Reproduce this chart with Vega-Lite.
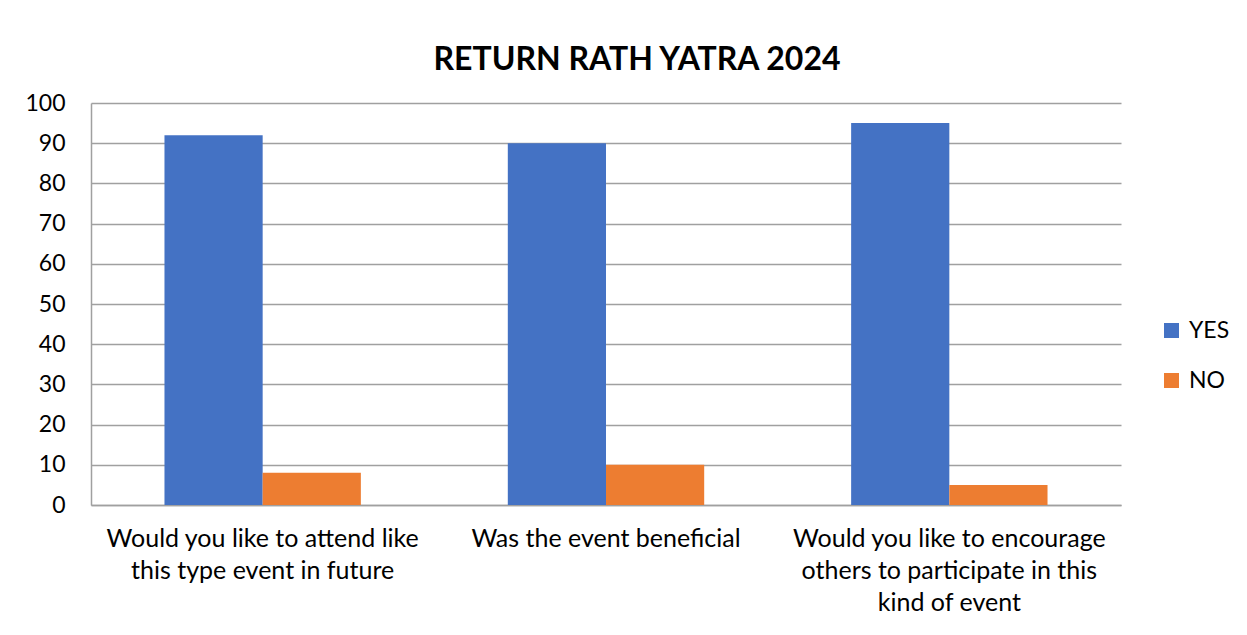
{
  "$schema": "https://vega.github.io/schema/vega-lite/v6.json",
  "width": 1030,
  "height": 402,
  "autosize": {"type": "none"},
  "padding": {"left": 91, "top": 103, "right": 126, "bottom": 130},
  "background": "white",
  "title": {
    "text": "RETURN RATH YATRA 2024",
    "font": "Lato",
    "fontSize": 32,
    "fontWeight": "bold",
    "color": "#000000",
    "anchor": "middle",
    "frame": "group",
    "dx": 31,
    "offset": 15
  },
  "data": {
    "values": [
      {"question": "Would you like to attend like|this type event in  future", "answer": "YES", "value": 92},
      {"question": "Would you like to attend like|this type event in  future", "answer": "NO", "value": 8},
      {"question": "Was the event beneficial", "answer": "YES", "value": 90},
      {"question": "Was the event beneficial", "answer": "NO", "value": 10},
      {"question": "Would you like to encourage|others to participate in this|kind of event", "answer": "YES", "value": 95},
      {"question": "Would you like to encourage|others to participate in this|kind of event", "answer": "NO", "value": 5}
    ]
  },
  "mark": {"type": "bar"},
  "encoding": {
    "x": {
      "field": "question",
      "type": "nominal",
      "sort": null,
      "scale": {"paddingInner": 0.428, "paddingOuter": 0.214},
      "axis": {
        "title": null,
        "labelAngle": 0,
        "labelExpr": "split(datum.label, '|')",
        "labelFont": "Lato",
        "labelFontSize": 25,
        "labelColor": "#000000",
        "labelLineHeight": 32,
        "labelPadding": 21,
        "labelLimit": 400,
        "ticks": false,
        "domainColor": "#A0A0A0",
        "domainWidth": 1.5,
        "grid": false
      }
    },
    "xOffset": {"field": "answer", "type": "nominal", "sort": ["YES", "NO"], "scale": {"paddingInner": 0, "paddingOuter": 0}},
    "y": {
      "field": "value",
      "type": "quantitative",
      "scale": {"domain": [0, 100]},
      "axis": {
        "title": null,
        "values": [0, 10, 20, 30, 40, 50, 60, 70, 80, 90, 100],
        "labelOverlap": false,
        "labelFont": "Lato",
        "labelFontSize": 23,
        "labelColor": "#000000",
        "labelPadding": 26,
        "ticks": false,
        "domain": true,
        "domainColor": "#A0A0A0",
        "domainWidth": 1.5,
        "grid": true,
        "gridColor": "#A0A0A0",
        "gridWidth": 1.5
      }
    },
    "color": {
      "field": "answer",
      "type": "nominal",
      "sort": ["YES", "NO"],
      "scale": {"domain": ["YES", "NO"], "range": ["#4472C4", "#ED7D31"]},
      "legend": {
        "title": null,
        "orient": "none",
        "legendX": 1069,
        "legendY": 216,
        "symbolType": "square",
        "symbolSize": 225,
        "symbolStrokeWidth": 0,
        "symbolOpacity": 1,
        "labelFont": "Lato",
        "labelFontSize": 23,
        "labelColor": "#000000",
        "labelOffset": 6,
        "rowPadding": 26
      }
    }
  },
  "config": {"view": {"stroke": null}}
}
